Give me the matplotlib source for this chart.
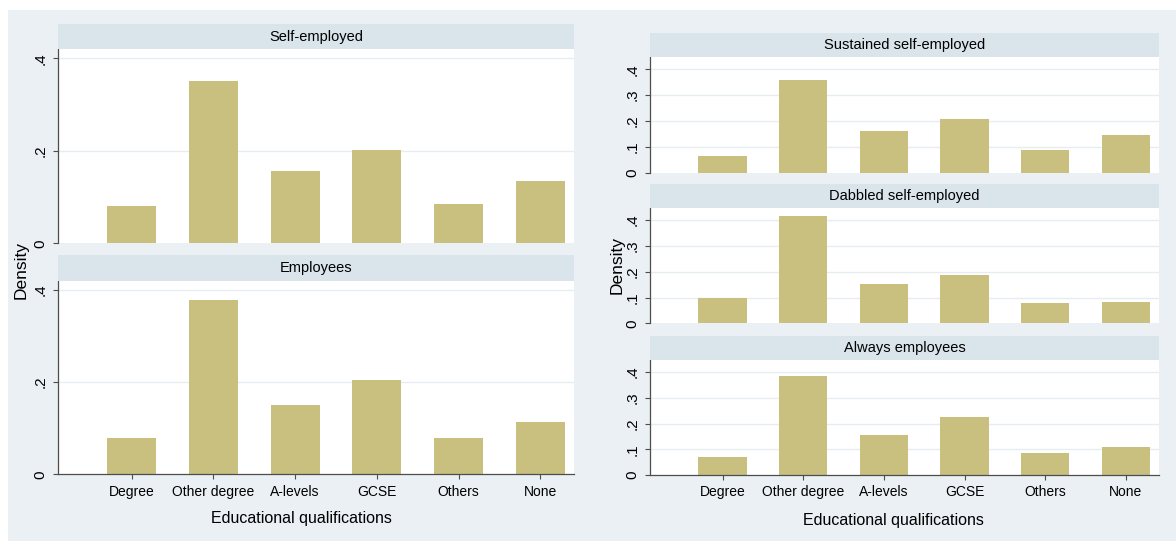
import matplotlib
matplotlib.use("Agg")
import matplotlib.pyplot as plt
from matplotlib.patches import Rectangle

# Educational qualification categories
categories = ["Degree", "Other degree", "A-levels", "GCSE", "Others", "None"]

# Density of each qualification, by employment group
self_employed = [0.081, 0.351, 0.156, 0.202, 0.085, 0.135]
employees = [0.078, 0.378, 0.151, 0.205, 0.078, 0.113]
sustained_self_employed = [0.063, 0.357, 0.160, 0.208, 0.088, 0.147]
dabbled_self_employed = [0.097, 0.416, 0.154, 0.186, 0.078, 0.083]
always_employees = [0.071, 0.384, 0.155, 0.227, 0.084, 0.107]

left_ticks = [0, 0.2, 0.4]
left_ticklabels = ["0", ".2", ".4"]
right_ticks = [0, 0.1, 0.2, 0.3, 0.4]
right_ticklabels = ["0", ".1", ".2", ".3", ".4"]

W, H = 1176, 541
BG = "#eaf0f3"
STRIP = "#d9e4eb"
BAR = "#c9c080"
AXIS = "#4d4d4d"
GRID = "#e6edf0"
FONT = ["Liberation Sans Narrow", "Liberation Sans", "DejaVu Sans"]

plt.rcParams["font.family"] = FONT

fig = plt.figure(figsize=(W / 100, H / 100), dpi=100)
fig.patch.set_facecolor("white")
fig.add_artist(Rectangle((8 / W, 0), 1 - 8 / W, 1 - 10 / H,
                         transform=fig.transFigure, facecolor=BG,
                         edgecolor="none", zorder=0))


def px_rect(x0, y0, x1, y1):
    return [x0 / W, 1 - y1 / H, (x1 - x0) / W, (y1 - y0) / H]


def panel(x0, x1, strip_top, plot_top, plot_bottom, values, title,
          ticks, ticklabels, ymax, bottom_row):
    ax = fig.add_axes(px_rect(x0, plot_top, x1, plot_bottom))
    ax.set_facecolor("white")
    pos = list(range(1, len(categories) + 1))
    for t in ticks[1:]:
        ax.axhline(t, color=GRID, lw=1.0, zorder=1)
    ax.bar(pos, values, width=0.6, color=BAR, zorder=2)
    ax.set_xlim(0.1, 6.41)
    ax.set_ylim(0, ymax)
    ax.set_yticks(ticks)
    ax.set_yticklabels(ticklabels, rotation=90, va="center", fontsize=11)
    ax.tick_params(axis="y", length=3.5, width=0.8, color=AXIS, pad=4)
    for s in ["top", "right"]:
        ax.spines[s].set_visible(False)
    ax.spines["left"].set_color(AXIS)
    ax.spines["left"].set_linewidth(0.9)
    if bottom_row:
        ax.spines["bottom"].set_color(AXIS)
        ax.spines["bottom"].set_linewidth(0.9)
        ax.set_xticks(pos)
        ax.set_xticklabels(categories, fontsize=10)
        ax.tick_params(axis="x", length=3.5, width=0.8, color=AXIS, pad=4)
    else:
        ax.spines["bottom"].set_visible(False)
        ax.set_xticks([])
    # title strip
    sx = fig.add_axes(px_rect(x0, strip_top, x1, plot_top))
    sx.set_facecolor(STRIP)
    sx.set_xticks([])
    sx.set_yticks([])
    for s in sx.spines.values():
        s.set_visible(False)
    sx.text(0.5, 0.5, title, ha="center", va="center", fontsize=10.5,
            transform=sx.transAxes)
    return ax


# Left graph: self-employed vs employees
panel(58, 574, 24, 49, 243.3, self_employed, "Self-employed",
      left_ticks, left_ticklabels, 0.42, False)
panel(58, 574, 255, 280.5, 474.3, employees, "Employees",
      left_ticks, left_ticklabels, 0.42, True)
fig.text(21 / W, 1 - 270 / H, "Density", rotation=90, ha="center",
         va="center", fontsize=12.5)
fig.text(301 / W, 1 - 519 / H, "Educational qualifications", ha="center",
         va="center", fontsize=11.5)

# Right graph: employment trajectories
panel(650, 1159, 32.7, 57.3, 172.7, sustained_self_employed,
      "Sustained self-employed", right_ticks, right_ticklabels, 0.446, False)
panel(650, 1159, 184, 208.3, 323.3, dabbled_self_employed,
      "Dabbled self-employed", right_ticks, right_ticklabels, 0.446, False)
panel(650, 1159, 336, 360.3, 475, always_employees,
      "Always employees", right_ticks, right_ticklabels, 0.446, True)
fig.text(617 / W, 1 - 265 / H, "Density", rotation=90, ha="center",
         va="center", fontsize=12.5)
fig.text(893 / W, 1 - 520 / H, "Educational qualifications", ha="center",
         va="center", fontsize=11.5)

fig.savefig("out.png", dpi=100, facecolor=fig.get_facecolor())
